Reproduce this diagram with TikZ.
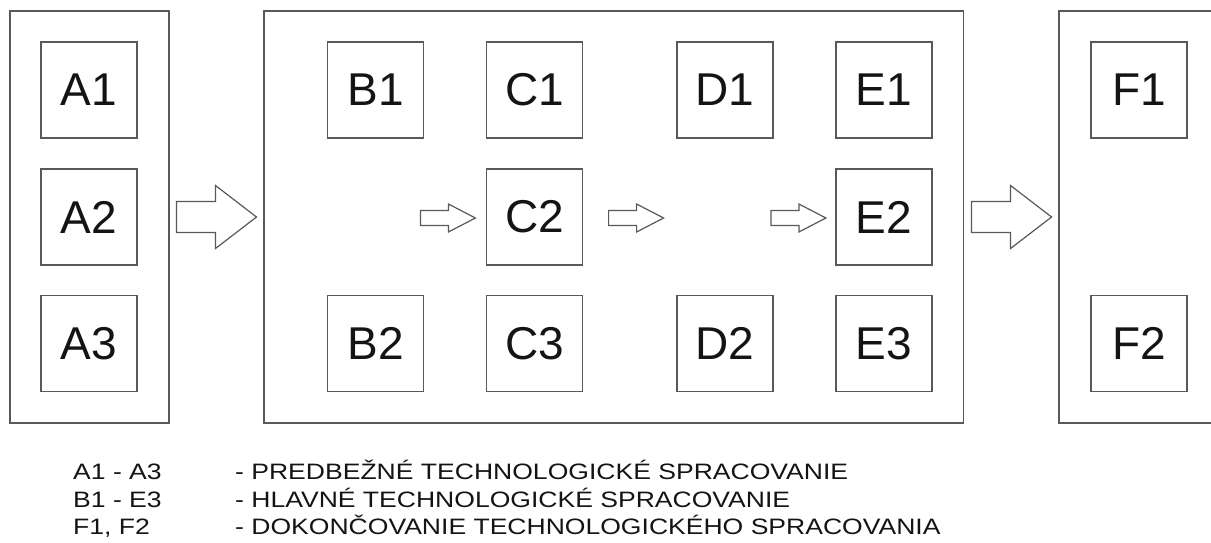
\documentclass[tikz,border=0pt]{standalone}
\usepackage{fontspec}
\setmainfont{Liberation Sans}
\newfontfamily\legendfont[FakeStretch=1.19]{Liberation Sans}
\usetikzlibrary{calc}

\tikzset{
  outline/.style={draw=black!65,line width=1.2pt},
  panel/.style={outline,inner sep=0pt},
  unit/.style={outline,minimum size=96pt,inner sep=0pt,text=black!92,
    font=\fontsize{46}{46}\selectfont},
  legend/.style={anchor=base west,inner sep=0pt,text=black!92,
    font=\legendfont\fontsize{22.3}{22.3}\selectfont},
  pics/bigarrow/.style={code={
    \draw[outline,fill=white] (-40,-15.5) -- ++(39,0) -- ++(0,-16) -- ++(41,31.5)
      -- ++(-41,31.5) -- ++(0,-16) -- ++(-39,0) -- cycle;}},
  pics/smallarrow/.style={code={
    \draw[outline,fill=white] (-27.5,-7.5) -- ++(28,0) -- ++(0,-6.5) -- ++(27,14)
      -- ++(-27,14) -- ++(0,-6.5) -- ++(-28,0) -- cycle;}}
}

\begin{document}
\begin{tikzpicture}[x=1pt,y=-1pt]
 \xdef\rowa{90}
 \xdef\rowb{217}
 \xdef\rowc{343.5}
  \useasboundingbox[fill=white] (0,0) rectangle (1211,542);
  % panels
  \node[panel,minimum width=159pt,minimum height=412pt] (pa) at (89.5,217) {};
  \node[panel,minimum width=699.5pt,minimum height=412pt] (pb) at (613.75,217) {};
  \draw[outline] (1211,11) -| (1059,423) -- (1211,423);
  \coordinate (pf) at (1059,217);
  % pre-processing
  \node[unit] (a1) at (89,\rowa) {A1};
  \node[unit] (a2) at (89,\rowb) {A2};
  \node[unit] (a3) at (89,\rowc) {A3};
  % main processing
  \node[unit] (b1) at (375.5,\rowa) {B1};
  \node[unit] (b2) at (375.5,\rowc) {B2};
  \node[unit] (c1) at (534.5,\rowa) {C1};
  \node[unit] (c2) at (534.5,\rowb) {C2};
  \node[unit] (c3) at (534.5,\rowc) {C3};
  \node[unit] (d1) at (725,\rowa) {D1};
  \node[unit] (d2) at (725,\rowc) {D2};
  \node[unit] (e1) at (884,\rowa) {E1};
  \node[unit] (e2) at (884,\rowb) {E2};
  \node[unit] (e3) at (884,\rowc) {E3};
  % finishing
  \node[unit] (f1) at (1139,\rowa) {F1};
  \node[unit] (f2) at (1139,\rowc) {F2};
  % arrows
  \pic at ($(pa.east)!0.5!(pb.west)$) {bigarrow};
  \pic at ($(pb.east)!0.5!(pf)$) {bigarrow};
  \pic at ([xshift=-38pt,yshift=-1pt]c2.west) {smallarrow};
  \pic at ([xshift=53pt,yshift=-1pt]c2.east) {smallarrow};
  \pic at ([xshift=-37pt,yshift=-1pt]e2.west) {smallarrow};
  % legend
  \node[legend] (k1) at (73,479) {A1 - A3};
  \node[legend] (k2) at (73,507) {B1 - E3};
  \node[legend] (k3) at (73,534) {F1, F2};
  \node[legend] (t1) at (235,479) {- PREDBEŽNÉ TECHNOLOGICKÉ SPRACOVANIE};
  \node[legend] (t2) at (235,507) {- HLAVNÉ TECHNOLOGICKÉ SPRACOVANIE};
  \node[legend] (t3) at (235,534) {- DOKONČOVANIE TECHNOLOGICKÉHO SPRACOVANIA};
\end{tikzpicture}
\end{document}
